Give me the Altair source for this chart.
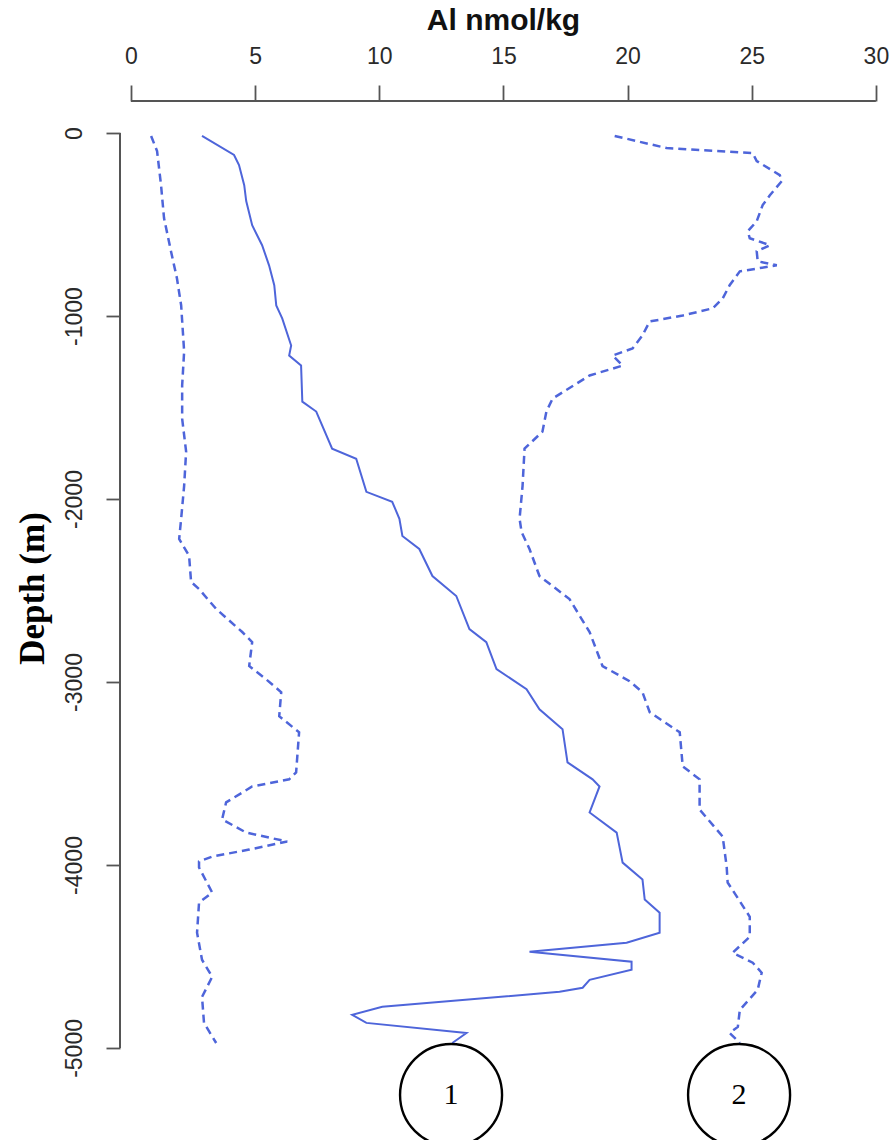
import altair as alt
import pandas as pd

# ---- data ----
solid_x = [2.86, 4.15, 4.35, 4.56, 4.64, 4.88, 5.28, 5.56, 5.77, 5.85, 6.09, 6.45, 6.37, 6.85, 6.90,
           7.46, 8.10, 9.07, 9.48, 10.52, 10.81, 10.93, 11.61, 12.14, 13.10, 13.63, 14.31, 14.72,
           15.93, 16.45, 17.38, 17.58, 18.59, 18.87, 18.47, 19.56, 19.80, 20.60, 20.69, 21.29,
           21.29, 19.96, 16.05, 20.16, 20.16, 18.47, 18.19, 17.26, 10.12, 8.91, 9.48, 13.51, 12.94]
solid_d = [-16, -120, -175, -285, -372, -504, -613, -723, -832, -942, -1013, -1161, -1216, -1271,
           -1468, -1522, -1725, -1780, -1961, -2015, -2108, -2202, -2273, -2421, -2530, -2711,
           -2782, -2930, -3039, -3149, -3258, -3439, -3532, -3571, -3713, -3823, -3987, -4080,
           -4189, -4261, -4370, -4425, -4474, -4529, -4573, -4628, -4671, -4693, -4775, -4819,
           -4863, -4918, -4973]

left_x = [0.81, 1.05, 1.21, 1.33, 1.61, 1.85, 2.02, 2.14, 2.06, 2.06, 2.22, 2.14, 2.02, 1.94, 2.34,
          2.42, 2.74, 3.43, 4.48, 4.88, 4.76, 5.44, 6.05, 5.97, 6.77, 6.65, 6.37, 4.88, 3.83, 3.67,
          4.64, 6.29, 4.76, 3.27, 2.74, 2.74, 3.27, 2.74, 2.66, 2.86, 3.27, 2.86, 2.94, 3.43]
left_d = [-16, -99, -285, -465, -646, -794, -942, -1194, -1380, -1561, -1741, -1928, -2108, -2218,
          -2311, -2453, -2492, -2601, -2727, -2782, -2913, -2985, -3056, -3187, -3275, -3494,
          -3532, -3571, -3658, -3751, -3823, -3872, -3916, -3954, -3981, -4014, -4151, -4206,
          -4370, -4518, -4611, -4721, -4863, -4973]

right_x = [19.48, 21.57, 25.04, 25.20, 26.13, 26.21, 25.73, 25.44, 25.20, 24.84, 24.92, 25.73, 25.20,
           25.24, 26.01, 24.52, 24.11, 23.83, 23.43, 22.22, 20.89, 20.60, 20.20, 19.40, 19.80,
           18.47, 16.98, 16.73, 16.57, 15.85, 15.77, 15.65, 15.73, 16.05, 16.45, 17.66, 18.47,
           18.99, 20.08, 20.60, 20.89, 22.10, 22.22, 22.90, 22.90, 23.83, 23.99, 24.03, 24.40,
           24.92, 24.92, 24.23, 25.04, 25.40, 25.24, 24.52, 24.44, 24.11, 24.52]
right_d = [-16, -82, -110, -153, -230, -263, -340, -394, -482, -537, -575, -613, -646, -701, -723,
           -756, -832, -904, -958, -997, -1030, -1106, -1177, -1216, -1271, -1325, -1451, -1522,
           -1632, -1725, -1928, -2108, -2180, -2273, -2421, -2547, -2727, -2913, -2996, -3056,
           -3165, -3275, -3461, -3532, -3697, -3845, -4009, -4096, -4173, -4283, -4392, -4480,
           -4534, -4589, -4682, -4792, -4885, -4918, -4973]

x_ticks = [0, 5, 10, 15, 20, 25, 30]
y_ticks = [0, -1000, -2000, -3000, -4000, -5000]

marker_labels = ["1", "2"]
marker_x = [12.89, 24.49]
marker_d = [-5257, -5257]

BLUE = "#4e65da"
AXIS = "#555555"

def frame(xs, ds):
    return pd.DataFrame({"x": xs, "depth": ds, "i": list(range(len(xs)))})

xscale = alt.Scale(domain=[-0.443, 30.81], nice=False, zero=False)
yscale = alt.Scale(domain=[-5503, 175], nice=False, zero=False)

xaxis = alt.Axis(orient="top", values=x_ticks, domain=False, grid=False,
                 tickColor=AXIS, tickWidth=1.8, tickSize=16,
                 labelFont="Liberation Sans", labelFontSize=23, labelColor="#2a2a2a",
                 labelPadding=17, labelFlush=False,
                 title="Al nmol/kg", titleFont="Liberation Sans", titleFontWeight="bold",
                 titleFontSize=30, titleColor="#111111", titleAlign="center",
                 titleBaseline="alphabetic", titleX=383, titleY=-72, titleAngle=0)
yaxis = alt.Axis(orient="left", values=y_ticks, domain=False, grid=False,
                 tickColor=AXIS, tickWidth=1.8, tickSize=14,
                 labelFont="Liberation Sans", labelFontSize=23, labelColor="#2a2a2a",
                 labelAngle=270, labelAlign="center", labelBaseline="bottom",
                 labelPadding=20, labelFlush=False, labelExpr="datum.value + ''",
                 title="Depth (m)", titleFont="Liberation Serif", titleFontWeight="bold",
                 titleFontSize=35, titleColor="#000000", titleAngle=270,
                 titleAlign="center", titleBaseline="middle", titleX=-88, titleY=487)

def line(df, dash=None, width=1.8):
    kw = dict(color=BLUE, strokeWidth=width, clip=False)
    if dash:
        kw["strokeDash"] = dash
    return alt.Chart(df).mark_line(**kw).encode(
        x=alt.X("x:Q", scale=xscale, axis=xaxis),
        y=alt.Y("depth:Q", scale=yscale, axis=yaxis),
        order="i:Q",
    )

solid = line(frame(solid_x, solid_d), width=2.0)
left = line(frame(left_x, left_d), dash=[8, 5], width=2.5)
right = line(frame(right_x, right_d), dash=[8, 5], width=2.5)

top_rule = alt.Chart(pd.DataFrame({"a": [x_ticks[0]], "b": [x_ticks[-1]]})).mark_rule(
    color=AXIS, strokeWidth=2).encode(
    x=alt.X("a:Q", scale=xscale), x2="b:Q", y=alt.value(0))
left_rule = alt.Chart(pd.DataFrame({"a": [y_ticks[0]], "b": [y_ticks[-1]]})).mark_rule(
    color=AXIS, strokeWidth=2).encode(
    y=alt.Y("a:Q", scale=yscale), y2="b:Q", x=alt.value(0))

mk = pd.DataFrame({"label": marker_labels, "x": marker_x, "depth": marker_d})
circles = alt.Chart(mk).mark_point(shape="circle", size=10404, filled=False,
                                   color="#000000", strokeWidth=2.4, opacity=1, clip=False).encode(
    x=alt.X("x:Q", scale=xscale), y=alt.Y("depth:Q", scale=yscale))
texts = alt.Chart(mk).mark_text(font="Liberation Serif", fontSize=30, color="#000000",
                                align="center", baseline="middle").encode(
    x=alt.X("x:Q", scale=xscale), y=alt.Y("depth:Q", scale=yscale), text="label:N")

chart = alt.layer(left, right, solid, top_rule, left_rule, circles, texts).properties(
    width=776, height=1039,
    autosize=alt.AutoSizeParams(type="none"),
    padding={"left": 120, "top": 101, "right": 0, "bottom": 0},
    background="white",
).configure_view(stroke=None)

chart.save("out.html", embed_options={"renderer": "svg", "actions": False})
